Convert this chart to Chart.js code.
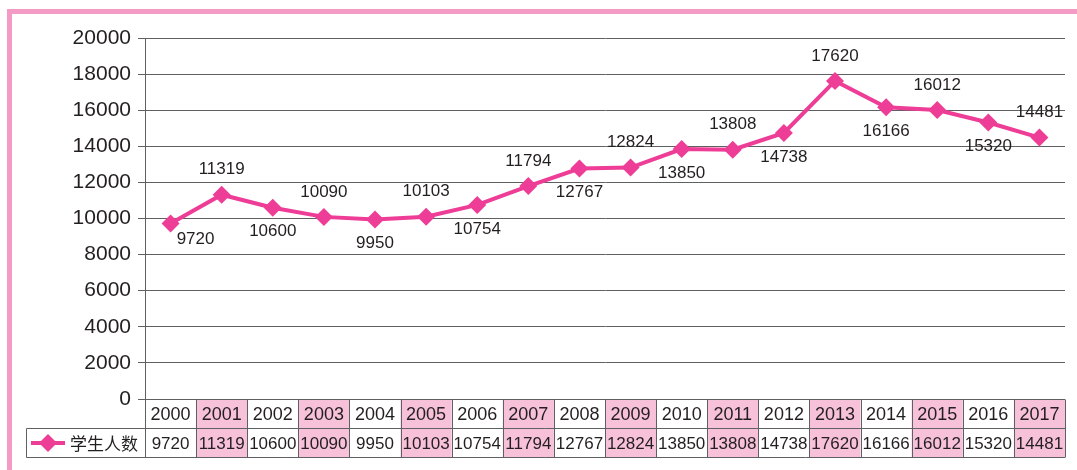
<!DOCTYPE html>
<html>
<head>
<meta charset="utf-8">
<script src="https://cdn.jsdelivr.net/npm/chart.js@4/dist/chart.umd.min.js"></script>
<style>
  body { margin: 0; background: #fff; }
</style>
</head>
<body>
<canvas id="chart" width="1077" height="470"></canvas>
<script>
const years = ["2000","2001","2002","2003","2004","2005","2006","2007","2008","2009","2010","2011","2012","2013","2014","2015","2016","2017"];
const students = [9720,11319,10600,10090,9950,10103,10754,11794,12767,12824,13850,13808,14738,17620,16166,16012,15320,14481];
const seriesName = "学生人数";

const pink = "#ee3d96";
const cellPink = "#f7c1d9";
const frame = "#f39bc4";
const ink = "#231f20";
const gridGray = "#5f6062";
const latin = '"Liberation Sans", Arial, Helvetica, sans-serif';

// pink frame on the top and left, behind everything
const framePlugin = {
  id: "frame",
  beforeDraw(chart) {
    const ctx = chart.ctx;
    ctx.save();
    ctx.fillStyle = frame;
    ctx.fillRect(7, 9, chart.width - 7, 5);
    ctx.fillRect(7, 9, 5, chart.height - 9);
    ctx.restore();
  }
};

// value labels, alternating below / above the points
const labelPlugin = {
  id: "valueLabels",
  afterDatasetsDraw(chart) {
    const ctx = chart.ctx;
    const meta = chart.getDatasetMeta(0);
    ctx.save();
    ctx.font = "17px " + latin;
    ctx.fillStyle = ink;
    ctx.textAlign = "center";
    ctx.textBaseline = "middle";
    meta.data.forEach((pt, i) => {
      let dx = 0, dy = i % 2 === 0 ? 24 : -25;
      if (i === 0) { dx = 25; dy = 16; } // first label sits off to the right
      ctx.fillText(String(students[i]), pt.x + dx, pt.y + dy);
    });
    ctx.restore();
  }
};

// data table under the plot
const tablePlugin = {
  id: "dataTable",
  afterDraw(chart) {
    const ctx = chart.ctx;
    const area = chart.chartArea;
    const xs = chart.scales.x;
    const colW = (area.right - area.left) / years.length;
    const top = Math.round(area.bottom) + 0.5;
    const rowH = 29;
    const mid = top + rowH;
    const bottom = mid + 29;
    const legendLeft = 26.5;

    ctx.save();
    ctx.fillStyle = cellPink;
    years.forEach((y, i) => {
      if (i % 2 === 1) {
        const cx = xs.getPixelForValue(i);
        ctx.fillRect(cx - colW / 2, top, colW, bottom - top);
      }
    });

    ctx.strokeStyle = gridGray;
    ctx.lineWidth = 1;
    ctx.beginPath();
    ctx.moveTo(area.left, top); ctx.lineTo(area.right, top);
    ctx.moveTo(legendLeft, mid); ctx.lineTo(area.right, mid);
    ctx.moveTo(legendLeft, bottom); ctx.lineTo(area.right, bottom);
    ctx.moveTo(legendLeft, mid); ctx.lineTo(legendLeft, bottom);
    for (let i = 0; i <= years.length; i++) {
      const x = Math.round(area.left + i * colW) + 0.5;
      ctx.moveTo(x, top); ctx.lineTo(x, bottom);
    }
    ctx.stroke();

    ctx.fillStyle = ink;
    ctx.textAlign = "center";
    ctx.textBaseline = "middle";
    years.forEach((y, i) => {
      const cx = xs.getPixelForValue(i);
      ctx.font = "18px " + latin;
      ctx.fillText(y, cx, top + rowH / 2 + 1);
      ctx.font = "17px " + latin;
      ctx.fillText(String(students[i]), cx, mid + rowH / 2 + 1);
    });

    // legend key
    const ky = mid + rowH / 2;
    ctx.strokeStyle = pink;
    ctx.lineWidth = 4;
    ctx.beginPath();
    ctx.moveTo(31, ky); ctx.lineTo(65, ky);
    ctx.stroke();
    ctx.fillStyle = pink;
    ctx.beginPath();
    ctx.moveTo(48, ky - 9); ctx.lineTo(57, ky); ctx.lineTo(48, ky + 9); ctx.lineTo(39, ky);
    ctx.closePath();
    ctx.fill();
    ctx.fillStyle = ink;
    ctx.textAlign = "left";
    ctx.font = '17px "Noto Sans CJK SC", sans-serif';
    ctx.fillText(seriesName, 70, ky + 1);
    ctx.restore();
  }
};

new Chart(document.getElementById("chart"), {
  type: "line",
  data: {
    labels: years,
    datasets: [{
      label: seriesName,
      data: students,
      borderColor: pink,
      backgroundColor: pink,
      borderWidth: 4,
      pointStyle: "rectRot",
      pointRadius: 9,
      pointBorderWidth: 0,
      tension: 0,
      fill: false
    }]
  },
  options: {
    responsive: false,
    animation: false,
    layout: { padding: { left: 0, top: 38, right: 12, bottom: 71 } },
    plugins: {
      legend: { display: false },
      tooltip: { enabled: false }
    },
    scales: {
      x: {
        display: false,
        offset: true
      },
      y: {
        min: 0,
        max: 20000,
        afterFit(scale) { scale.width = 145; },
        ticks: {
          stepSize: 2000,
          color: ink,
          padding: 7,
          font: { family: latin, size: 21 },
          callback: (v) => String(v)
        },
        grid: {
          color: gridGray,
          lineWidth: 1,
          tickLength: 7
        },
        border: { color: gridGray, width: 1 }
      }
    }
  },
  plugins: [framePlugin, labelPlugin, tablePlugin]
});
</script>
</body>
</html>
